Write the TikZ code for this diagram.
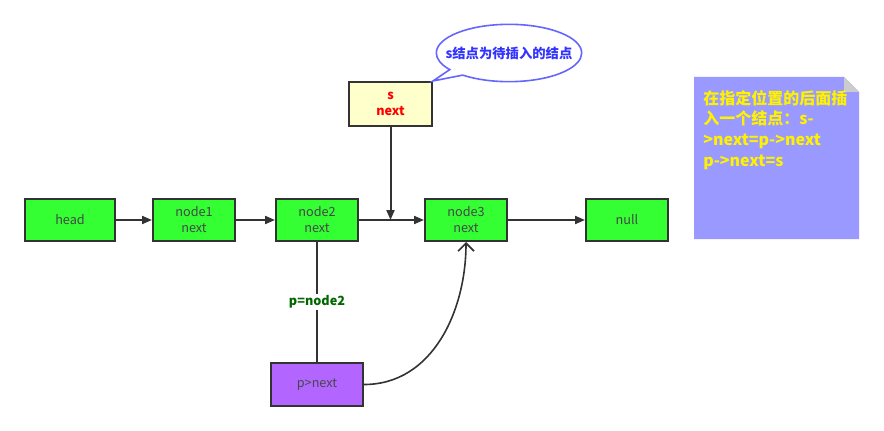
\documentclass[tikz,border=0pt]{standalone}
\usepackage{fontspec}
\setmainfont{Noto Sans CJK SC}
\usetikzlibrary{arrows.meta,shapes.callouts}

\definecolor{boxgreen}{HTML}{33FF33}
\definecolor{boxline}{HTML}{333333}
\definecolor{sfill}{HTML}{FFFFCC}
\definecolor{pfill}{HTML}{B266FF}
\definecolor{notefill}{HTML}{9999FF}
\definecolor{calloutline}{HTML}{6666FF}
\definecolor{callouttext}{HTML}{3333FF}
\definecolor{labelgreen}{HTML}{006600}

\begin{document}
\begin{tikzpicture}[x=0.75pt, y=-0.75pt,
    box/.style={draw=boxline, line width=1.5pt, fill=boxgreen, minimum width=61.5pt,
      minimum height=31.5pt, align=center, text=boxline!90,
      font=\fontsize{9.5}{12}\selectfont},
    link/.style={draw=boxline, line width=1.5pt, -{Triangle[length=7.5pt,width=6pt]}},
    >=stealth]
  \useasboundingbox (0,0) rectangle (884,431);

  % Liste
  \node[box, minimum width=67.5pt] (head) at (70,220) {head};
  \node[box] (node1) at (194,220) {node1\\next};
  \node[box] (node2) at (317,220) {node2\\next};
  \node[box] (node3) at (466,220) {node3\\next};
  \node[box] (null) at (627,220) {null};

  \draw[link] (head) -- (node1);
  \draw[link] (node1) -- (node2);
  \draw[link] (node2) -- (node3);
  \draw[link] (node3) -- (null);

  % Ny node s
  \node[box, fill=sfill, minimum width=62pt, minimum height=33pt, text=red,
    font=\fontsize{9.5}{12}\selectfont\bfseries] (s) at (390.5,104) {s\\next};
  \coordinate (insert) at (390.5,220);
  \draw[link] (s) -- (insert);

  \node[ellipse callout, draw=calloutline, line width=1.2pt, fill=white,
    inner xsep=-9pt, minimum width=0pt, minimum height=43pt, text=callouttext,
    font=\fontsize{10}{12}\selectfont\bfseries,
    callout absolute pointer={(s.north east)}] (bubble) at (509,53) {s结点为待插入的结点};

  % Peker p
  \node[box, fill=pfill, minimum width=69pt, minimum height=32pt] (pnext) at (317,384.5) {p>next};
  \draw[boxline, line width=1.5pt] (node2) -- node[fill=white, text=labelgreen,
    font=\fontsize{9.5}{12}\selectfont\bfseries, inner sep=1pt] (plabel) {p=node2} (pnext);
  \draw[boxline, line width=1.2pt, -{Straight Barb[length=6pt,width=12pt]}]
    (pnext.east) to[out=0, in=-90] (node3.south);

  % Notat
  \fill[notefill] (694,77) -- (844,77) -- (859,92) -- (859,239) -- (694,239) -- cycle;
  \fill[gray!40] (844,77) -- (859,92) -- (844,92) -- cycle;
  \node[anchor=north west, align=left, text=yellow, inner sep=0pt,
    font=\fontsize{12}{15.5}\selectfont\bfseries] (note) at (703,90)
    {在指定位置的后面插\\入一个结点：s-\\>next=p->next\\p->next=s};
\end{tikzpicture}
\end{document}
